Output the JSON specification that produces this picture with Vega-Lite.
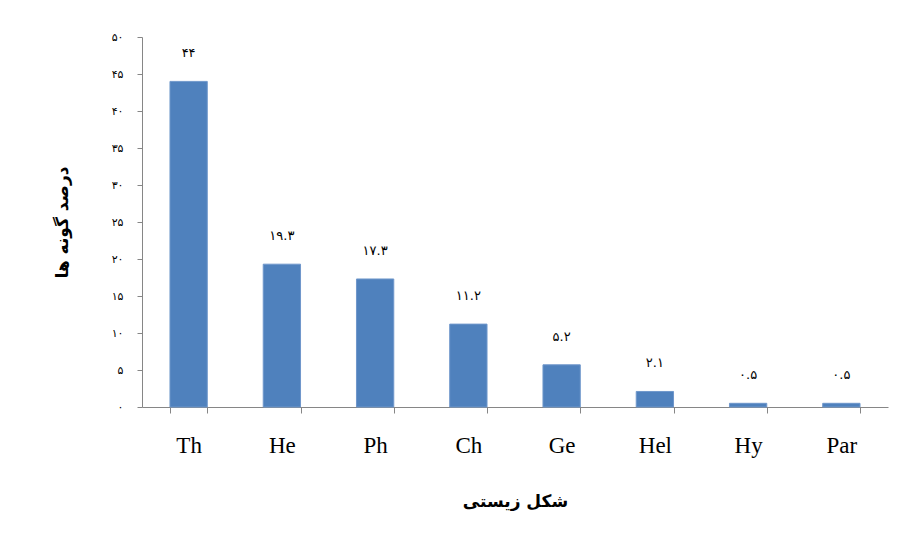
{
  "$schema": "https://vega.github.io/schema/vega-lite/v6.json",
  "autosize": "none",
  "padding": {"left": 142, "top": 37, "right": 13, "bottom": 140},
  "width": 746,
  "height": 370,
  "background": "white",
  "config": {"view": {"stroke": null}, "font": "Liberation Serif"},
  "data": {
    "values": [
      {"form": "Th", "percent": 44, "label": "۴۴"},
      {"form": "He", "percent": 19.3, "label": "۱۹.۳"},
      {"form": "Ph", "percent": 17.3, "label": "۱۷.۳"},
      {"form": "Ch", "percent": 11.2, "label": "۱۱.۲"},
      {"form": "Ge", "percent": 5.7, "label": "۵.۲"},
      {"form": "Hel", "percent": 2.1, "label": "۲.۱"},
      {"form": "Hy", "percent": 0.5, "label": "۰.۵"},
      {"form": "Par", "percent": 0.5, "label": "۰.۵"}
    ]
  },
  "encoding": {
    "x": {
      "field": "form",
      "type": "nominal",
      "sort": null,
      "scale": {"paddingInner": 0.6, "paddingOuter": 0.3},
      "axis": {
        "title": "شکل زیستی",
        "titleFont": "DejaVu Sans",
        "titleFontSize": 17,
        "titleFontWeight": "bold",
        "titleColor": "black",
        "titlePadding": 36,
        "labelAngle": 0,
        "labelFont": "Liberation Serif",
        "labelFontSize": 23,
        "labelColor": "black",
        "labelPadding": 21,
        "tickBand": "extent",
        "tickSize": 6,
        "tickColor": "#868686",
        "domainColor": "#868686",
        "grid": false
      }
    },
    "y": {
      "field": "percent",
      "type": "quantitative",
      "scale": {"domain": [0, 50], "nice": false},
      "axis": {
        "title": "درصد گونه ها",
        "titleFont": "DejaVu Sans",
        "titleFontSize": 17,
        "titleFontWeight": "bold",
        "titleColor": "black",
        "titlePadding": 40,
        "values": [0, 5, 10, 15, 20, 25, 30, 35, 40, 45, 50],
        "labelExpr": "replace(replace(replace(replace(replace(replace(datum.label, regexp('0','g'), '۰'), regexp('1','g'), '۱'), regexp('2','g'), '۲'), regexp('3','g'), '۳'), regexp('4','g'), '۴'), regexp('5','g'), '۵')",
        "labelFont": "DejaVu Sans",
        "labelFontSize": 11,
        "labelColor": "black",
        "labelPadding": 14,
        "tickSize": 5,
        "tickColor": "#868686",
        "domainColor": "#868686",
        "grid": false
      }
    }
  },
  "layer": [
    {"mark": {"type": "bar", "color": "#4F81BD", "stroke": "#6F97CB", "strokeWidth": 1}},
    {
      "mark": {"type": "text", "dy": -28, "font": "DejaVu Sans", "fontSize": 13, "color": "black"},
      "encoding": {"text": {"field": "label"}}
    }
  ]
}
